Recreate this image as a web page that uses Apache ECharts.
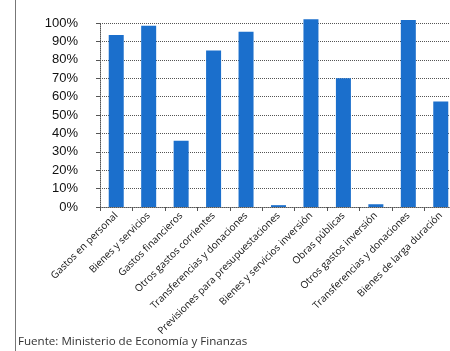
<!DOCTYPE html>
<html>
<head>
    <meta charset="utf-8">
    <title>Ejecución del gasto</title>
    <script src="https://cdn.jsdelivr.net/npm/echarts@6/dist/echarts.min.js"></script>
    <style>
        html, body { margin: 0; padding: 0; background: #fff; }
    </style>
</head>
<body>
    <div id="myChart" style="width: 450px;height:351px;"></div>
    <script>
        // categorías del gráfico
        var categories = [
            'Gastos en personal', 'Bienes y servicios', 'Gastos financieros',
            'Otros gastos corrientes', 'Transferencias y donaciones',
            'Previsiones para presupuestaciones', 'Bienes y servicios inversión',
            'Obras públicas', 'Otros gastos inversión',
            'Transferencias y donaciones', 'Bienes de larga duración'
        ];
        // porcentaje ejecutado
        var values = [93.5, 98.5, 36, 85, 95.3, 1, 102, 70, 1.5, 101.6, 57.4];
        var yTicks = [0, 10, 20, 30, 40, 50, 60, 70, 80, 90, 100];

        var myChart = echarts.init(document.getElementById('myChart'));

        var option = {
            animation: false,
            grid: { left: 100, right: -7, top: 23, bottom: 144, outerBoundsMode: 'none', containLabel: false },
            graphic: [
                {
                    type: 'line',
                    shape: { x1: 15.5, y1: 0, x2: 15.5, y2: 351 },
                    style: { stroke: '#777', lineWidth: 1 }
                },
                {
                    type: 'text',
                    left: 18,
                    top: 336,
                    style: {
                        text: 'Fuente: Ministerio de Economía y Finanzas',
                        fontFamily: 'Open Sans',
                        fontSize: 11.6,
                        fill: '#333'
                    }
                }
            ],
            xAxis: {
                type: 'category',
                data: categories,
                axisLine: { lineStyle: { color: '#555', type: 'dotted' } },
                axisTick: { show: true, length: 4, lineStyle: { color: '#555' } },
                axisLabel: {
                    interval: 0,
                    rotate: 45,
                    margin: 7,
                    fontFamily: 'Open Sans',
                    fontSize: 10,
                    color: '#111'
                }
            },
            yAxis: {
                type: 'value',
                min: 0,
                max: 100,
                interval: 10,
                axisLine: { show: true, lineStyle: { color: '#555', type: 'dotted' } },
                axisTick: { show: true, length: 4, lineStyle: { color: '#555' } },
                axisLabel: {
                    margin: 22,
                    fontFamily: 'Liberation Sans',
                    fontSize: 13,
                    color: '#111',
                    formatter: function (v) { return yTicks.indexOf(v) >= 0 ? v + '%' : ''; }
                },
                splitLine: { lineStyle: { color: '#555', type: 'dotted' } }
            },
            series: [{
                type: 'bar',
                data: values,
                barWidth: 15,
                clip: false,
                itemStyle: { color: '#1b6fcc' }
            }]
        };
        myChart.setOption(option);
    </script>
</body>
</html>
